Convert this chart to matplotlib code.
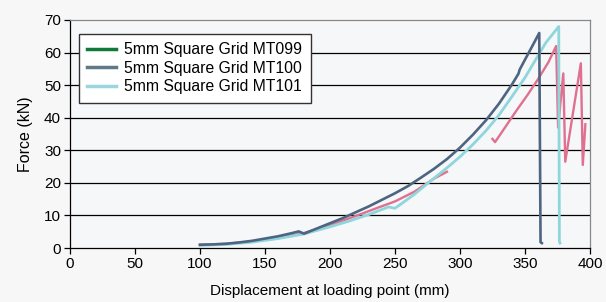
import matplotlib
matplotlib.use("Agg")
import matplotlib.pyplot as plt

plt.rcParams['font.family'] = ['Liberation Sans', 'DejaVu Sans']

# Data (displacement mm, force kN)
mt099_x = [100, 120, 140, 160, 180, 200, 212, 225, 237, 250, 265, 280, 290]
mt099_y = [1.0, 1.3, 2.0, 3.0, 4.6, 7.0, 8.7, 10.6, 12.4, 14.3, 17.3, 21.3, 23.4]
mt099b_x = [325, 327, 335, 344, 352, 360, 368, 374, 375.5, 379.5, 381, 393, 394.5, 396.5]
mt099b_y = [33.5, 32.5, 37.2, 42.5, 47.0, 51.8, 57.0, 62.0, 37.0, 53.6, 26.5, 56.7, 25.5, 38.0]

mt100_x = [100, 110, 120, 130, 140, 150, 160, 170, 176, 180, 185, 190, 200, 210, 220, 230,
           240, 250, 260, 270, 280, 290, 300, 310, 320, 330, 340, 345, 346, 350, 355, 361, 362, 363]
mt100_y = [1.0, 1.1, 1.3, 1.7, 2.2, 2.9, 3.6, 4.5, 5.1, 4.4, 5.2, 6.0, 7.6, 9.2, 11.0, 12.8,
           14.8, 16.8, 19.0, 21.6, 24.3, 27.3, 30.8, 34.8, 39.2, 44.3, 50.2, 53.5, 54.8, 57.8, 61.5, 66.0, 1.8, 1.5]

mt101_x = [100, 120, 140, 160, 180, 200, 215, 230, 245, 250, 255, 265, 275, 290, 300, 310,
           320, 330, 340, 350, 360, 366, 372, 376, 376.5, 377]
mt101_y = [0.8, 1.1, 1.8, 2.9, 4.3, 6.5, 8.3, 10.3, 12.6, 12.2, 13.6, 16.5, 19.8, 24.6, 28.0, 31.8,
           36.0, 40.8, 46.5, 52.3, 59.0, 63.0, 66.0, 68.0, 2.0, 1.5]

labels = ['5mm Square Grid MT099', '5mm Square Grid MT100', '5mm Square Grid MT101']
xticks = [0, 50, 100, 150, 200, 250, 300, 350, 400]
yticks = [0, 10, 20, 30, 40, 50, 60, 70]

fig = plt.figure(figsize=(6.06, 3.02), dpi=100, facecolor='#f7f7f7')
ax = fig.add_axes([0.1155, 0.1788, 0.858, 0.755])
ax.set_facecolor('#f6f7f8')

for yv in yticks[1:-1]:
    ax.axhline(yv, color='black', lw=0.9, zorder=1)

ax.plot(mt099_x, mt099_y, color='#e07090', lw=1.7, zorder=2)
ax.plot(mt099b_x, mt099b_y, color='#e07090', lw=1.7, zorder=2)
ax.plot(mt101_x, mt101_y, color='#8fd6dc', lw=2.0, zorder=3)
ax.plot(mt100_x, mt100_y, color='#4d6580', lw=1.9, zorder=4)

# legend proxies
h1, = ax.plot([], [], color='#107a3a', lw=2.5)
h2, = ax.plot([], [], color='#607888', lw=2.5)
h3, = ax.plot([], [], color='#9ad6de', lw=2.5)
leg = ax.legend([h1, h2, h3], labels, loc='upper left', bbox_to_anchor=(0.017, 0.94),
                fontsize=11.3, frameon=True, fancybox=False, edgecolor='#333333',
                framealpha=1, facecolor='white', handlelength=1.8, handletextpad=0.55,
                labelspacing=0.22, borderpad=0.55, borderaxespad=0)
leg.get_frame().set_linewidth(1.0)

ax.set_xlim(0, 400)
ax.set_ylim(0, 70)
ax.set_xticks(xticks)
ax.set_yticks(yticks)
ax.tick_params(axis='both', labelsize=11, length=4.5, width=0.9, colors='black', direction='out')
ax.tick_params(axis='x', pad=2)
ax.tick_params(axis='y', pad=2)
for s in ['left', 'bottom']:
    ax.spines[s].set_color('black')
    ax.spines[s].set_linewidth(0.9)
for s in ['top', 'right']:
    ax.spines[s].set_color('#888888')
    ax.spines[s].set_linewidth(0.9)

ax.set_xlabel('Displacement at loading point (mm)', fontsize=11, labelpad=9)
ax.set_ylabel('Force (kN)', fontsize=11.5, labelpad=8)

fig.savefig('out.png', dpi=100, facecolor=fig.get_facecolor())
